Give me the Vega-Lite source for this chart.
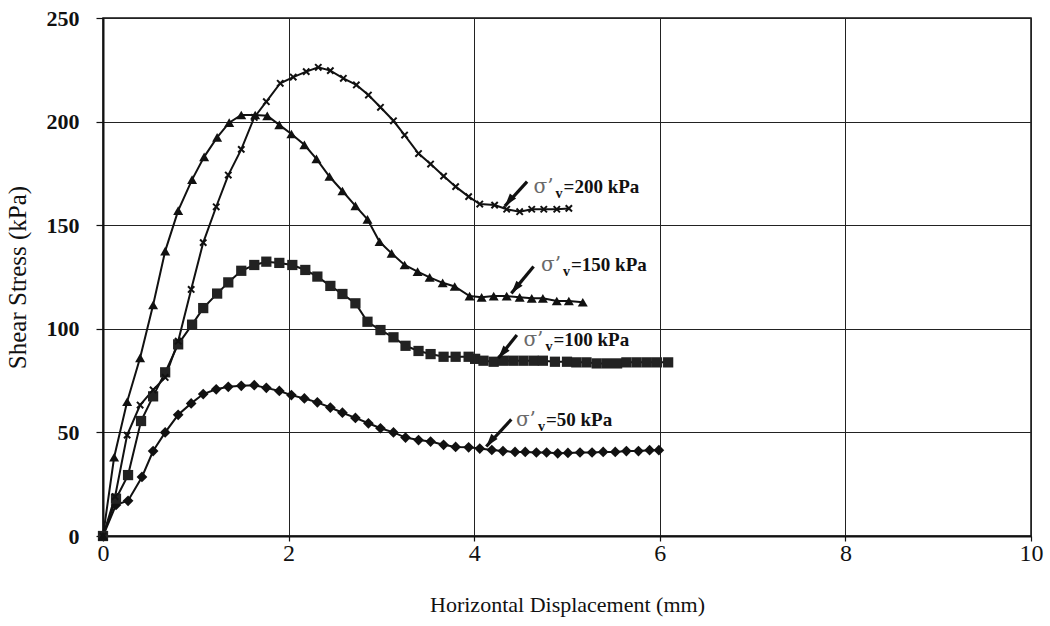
{
  "$schema": "https://vega.github.io/schema/vega-lite/v6.json",
  "autosize": "none",
  "width": 928,
  "height": 518,
  "padding": {"left": 103, "top": 18, "right": 19, "bottom": 90},
  "background": "white",
  "config": {
    "view": {"stroke": "#111", "strokeWidth": 1.5},
    "font": "Liberation Serif",
    "axis": {
      "domainColor": "#111",
      "domainWidth": 2,
      "tickColor": "#111",
      "tickWidth": 1.2,
      "gridColor": "#222",
      "gridWidth": 1,
      "gridOpacity": 1,
      "labelFont": "Liberation Serif",
      "labelFontWeight": "bold",
      "labelFontSize": 22,
      "labelColor": "#111",
      "labelFlush": false,
      "titleFont": "Liberation Serif",
      "titleFontWeight": "normal",
      "titleFontSize": 22,
      "titleColor": "#111"
    }
  },
  "datasets": {
    "curves": [
      {"stress": "50", "d": 0, "tau": 0}, {"stress": "50", "d": 0.14, "tau": 15}, {"stress": "50", "d": 0.27, "tau": 17},
      {"stress": "50", "d": 0.42, "tau": 28.5}, {"stress": "50", "d": 0.54, "tau": 41}, {"stress": "50", "d": 0.67, "tau": 50},
      {"stress": "50", "d": 0.81, "tau": 58.5}, {"stress": "50", "d": 0.95, "tau": 64}, {"stress": "50", "d": 1.08, "tau": 68.5},
      {"stress": "50", "d": 1.22, "tau": 70.8}, {"stress": "50", "d": 1.35, "tau": 72}, {"stress": "50", "d": 1.49, "tau": 72.5},
      {"stress": "50", "d": 1.63, "tau": 72.8}, {"stress": "50", "d": 1.76, "tau": 71.5}, {"stress": "50", "d": 1.9, "tau": 70},
      {"stress": "50", "d": 2.03, "tau": 68}, {"stress": "50", "d": 2.17, "tau": 66.4}, {"stress": "50", "d": 2.31, "tau": 64.5},
      {"stress": "50", "d": 2.45, "tau": 62}, {"stress": "50", "d": 2.58, "tau": 59.5}, {"stress": "50", "d": 2.72, "tau": 57},
      {"stress": "50", "d": 2.86, "tau": 54.4}, {"stress": "50", "d": 2.99, "tau": 52}, {"stress": "50", "d": 3.13, "tau": 50},
      {"stress": "50", "d": 3.26, "tau": 47.5}, {"stress": "50", "d": 3.4, "tau": 46.3}, {"stress": "50", "d": 3.53, "tau": 45.6},
      {"stress": "50", "d": 3.67, "tau": 44}, {"stress": "50", "d": 3.8, "tau": 43}, {"stress": "50", "d": 3.94, "tau": 42.8},
      {"stress": "50", "d": 4.06, "tau": 42.2}, {"stress": "50", "d": 4.19, "tau": 41.5}, {"stress": "50", "d": 4.31, "tau": 41},
      {"stress": "50", "d": 4.44, "tau": 40.6}, {"stress": "50", "d": 4.55, "tau": 40.6}, {"stress": "50", "d": 4.67, "tau": 40.3},
      {"stress": "50", "d": 4.78, "tau": 40.3}, {"stress": "50", "d": 4.9, "tau": 39.9}, {"stress": "50", "d": 5.01, "tau": 40.1},
      {"stress": "50", "d": 5.14, "tau": 40.3}, {"stress": "50", "d": 5.27, "tau": 40.3}, {"stress": "50", "d": 5.39, "tau": 40.6},
      {"stress": "50", "d": 5.52, "tau": 40.6}, {"stress": "50", "d": 5.64, "tau": 41}, {"stress": "50", "d": 5.77, "tau": 41},
      {"stress": "50", "d": 5.89, "tau": 41.4}, {"stress": "50", "d": 5.99, "tau": 41.4},

      {"stress": "100", "d": 0, "tau": 0}, {"stress": "100", "d": 0.14, "tau": 18}, {"stress": "100", "d": 0.27, "tau": 29.4},
      {"stress": "100", "d": 0.41, "tau": 55.5}, {"stress": "100", "d": 0.54, "tau": 67.4}, {"stress": "100", "d": 0.67, "tau": 79},
      {"stress": "100", "d": 0.81, "tau": 92.5}, {"stress": "100", "d": 0.96, "tau": 102}, {"stress": "100", "d": 1.08, "tau": 110},
      {"stress": "100", "d": 1.23, "tau": 117}, {"stress": "100", "d": 1.35, "tau": 122.4}, {"stress": "100", "d": 1.49, "tau": 128},
      {"stress": "100", "d": 1.63, "tau": 130.8}, {"stress": "100", "d": 1.76, "tau": 132.4}, {"stress": "100", "d": 1.9, "tau": 131.8},
      {"stress": "100", "d": 2.04, "tau": 130.8}, {"stress": "100", "d": 2.18, "tau": 128.4}, {"stress": "100", "d": 2.31, "tau": 125.2},
      {"stress": "100", "d": 2.45, "tau": 120.7}, {"stress": "100", "d": 2.58, "tau": 116.8}, {"stress": "100", "d": 2.72, "tau": 112.3},
      {"stress": "100", "d": 2.85, "tau": 103.4}, {"stress": "100", "d": 2.99, "tau": 99.4}, {"stress": "100", "d": 3.13, "tau": 95.9},
      {"stress": "100", "d": 3.26, "tau": 91.8}, {"stress": "100", "d": 3.4, "tau": 89.3}, {"stress": "100", "d": 3.53, "tau": 87.8},
      {"stress": "100", "d": 3.67, "tau": 86.5}, {"stress": "100", "d": 3.8, "tau": 86.5}, {"stress": "100", "d": 3.94, "tau": 86.5},
      {"stress": "100", "d": 4.01, "tau": 85.5}, {"stress": "100", "d": 4.1, "tau": 84.6}, {"stress": "100", "d": 4.21, "tau": 84.1},
      {"stress": "100", "d": 4.31, "tau": 84.6}, {"stress": "100", "d": 4.42, "tau": 84.6}, {"stress": "100", "d": 4.53, "tau": 84.6},
      {"stress": "100", "d": 4.64, "tau": 84.6}, {"stress": "100", "d": 4.74, "tau": 84.6}, {"stress": "100", "d": 4.87, "tau": 84.1},
      {"stress": "100", "d": 5.0, "tau": 84.1}, {"stress": "100", "d": 5.1, "tau": 83.8}, {"stress": "100", "d": 5.21, "tau": 83.8},
      {"stress": "100", "d": 5.32, "tau": 83.3}, {"stress": "100", "d": 5.43, "tau": 83.3}, {"stress": "100", "d": 5.54, "tau": 83.3},
      {"stress": "100", "d": 5.64, "tau": 83.8}, {"stress": "100", "d": 5.75, "tau": 83.8}, {"stress": "100", "d": 5.86, "tau": 83.8},
      {"stress": "100", "d": 5.97, "tau": 83.8}, {"stress": "100", "d": 6.09, "tau": 83.8},

      {"stress": "150", "d": 0, "tau": 0}, {"stress": "150", "d": 0.12, "tau": 38}, {"stress": "150", "d": 0.26, "tau": 64.8},
      {"stress": "150", "d": 0.4, "tau": 86}, {"stress": "150", "d": 0.54, "tau": 111.5}, {"stress": "150", "d": 0.67, "tau": 137.5},
      {"stress": "150", "d": 0.81, "tau": 157}, {"stress": "150", "d": 0.96, "tau": 172}, {"stress": "150", "d": 1.09, "tau": 183},
      {"stress": "150", "d": 1.23, "tau": 192.4}, {"stress": "150", "d": 1.36, "tau": 199.5}, {"stress": "150", "d": 1.49, "tau": 203.2},
      {"stress": "150", "d": 1.64, "tau": 203.2}, {"stress": "150", "d": 1.77, "tau": 202.8}, {"stress": "150", "d": 1.9, "tau": 198.4},
      {"stress": "150", "d": 2.03, "tau": 194}, {"stress": "150", "d": 2.17, "tau": 188.8}, {"stress": "150", "d": 2.3, "tau": 182},
      {"stress": "150", "d": 2.44, "tau": 173.5}, {"stress": "150", "d": 2.58, "tau": 166.5}, {"stress": "150", "d": 2.72, "tau": 159.3},
      {"stress": "150", "d": 2.85, "tau": 152.8}, {"stress": "150", "d": 2.98, "tau": 142}, {"stress": "150", "d": 3.11, "tau": 136.4},
      {"stress": "150", "d": 3.25, "tau": 130.8}, {"stress": "150", "d": 3.39, "tau": 127.6}, {"stress": "150", "d": 3.52, "tau": 124.8},
      {"stress": "150", "d": 3.66, "tau": 122.2}, {"stress": "150", "d": 3.79, "tau": 120.4}, {"stress": "150", "d": 3.95, "tau": 115.8},
      {"stress": "150", "d": 4.08, "tau": 115.2}, {"stress": "150", "d": 4.21, "tau": 115.8}, {"stress": "150", "d": 4.35, "tau": 115.8},
      {"stress": "150", "d": 4.49, "tau": 115.2}, {"stress": "150", "d": 4.62, "tau": 114.7}, {"stress": "150", "d": 4.74, "tau": 114.7},
      {"stress": "150", "d": 4.89, "tau": 113.4}, {"stress": "150", "d": 5.02, "tau": 113.4}, {"stress": "150", "d": 5.17, "tau": 112.8},

      {"stress": "200", "d": 0, "tau": 0}, {"stress": "200", "d": 0.13, "tau": 19}, {"stress": "200", "d": 0.26, "tau": 48.7},
      {"stress": "200", "d": 0.4, "tau": 63.2}, {"stress": "200", "d": 0.54, "tau": 70.5}, {"stress": "200", "d": 0.67, "tau": 76.5},
      {"stress": "200", "d": 0.81, "tau": 94}, {"stress": "200", "d": 0.95, "tau": 119}, {"stress": "200", "d": 1.08, "tau": 141.6},
      {"stress": "200", "d": 1.22, "tau": 158.9}, {"stress": "200", "d": 1.35, "tau": 174.2}, {"stress": "200", "d": 1.49, "tau": 186.6},
      {"stress": "200", "d": 1.63, "tau": 202}, {"stress": "200", "d": 1.76, "tau": 209.6}, {"stress": "200", "d": 1.91, "tau": 218.5},
      {"stress": "200", "d": 2.05, "tau": 221.5}, {"stress": "200", "d": 2.19, "tau": 224.1}, {"stress": "200", "d": 2.32, "tau": 226.2},
      {"stress": "200", "d": 2.45, "tau": 224.6}, {"stress": "200", "d": 2.59, "tau": 220.9}, {"stress": "200", "d": 2.73, "tau": 217.7},
      {"stress": "200", "d": 2.86, "tau": 212.8}, {"stress": "200", "d": 2.99, "tau": 206.9}, {"stress": "200", "d": 3.13, "tau": 200.4},
      {"stress": "200", "d": 3.25, "tau": 193.5}, {"stress": "200", "d": 3.4, "tau": 184.6}, {"stress": "200", "d": 3.53, "tau": 179.5},
      {"stress": "200", "d": 3.67, "tau": 173.7}, {"stress": "200", "d": 3.8, "tau": 168.6}, {"stress": "200", "d": 3.94, "tau": 163.8},
      {"stress": "200", "d": 4.06, "tau": 160.2}, {"stress": "200", "d": 4.22, "tau": 159.7}, {"stress": "200", "d": 4.35, "tau": 157.7},
      {"stress": "200", "d": 4.49, "tau": 156.5}, {"stress": "200", "d": 4.62, "tau": 157.7}, {"stress": "200", "d": 4.75, "tau": 157.7},
      {"stress": "200", "d": 4.89, "tau": 157.7}, {"stress": "200", "d": 5.02, "tau": 158.1}
    ],
    "labels": [
      {"stress": "200", "lx": 4.64, "ly": 168.6, "rest": "=200 kPa"},
      {"stress": "150", "lx": 4.72, "ly": 130.8, "rest": "=150 kPa"},
      {"stress": "100", "lx": 4.53, "ly": 94.6, "rest": "=100 kPa"},
      {"stress": "50", "lx": 4.45, "ly": 56, "rest": "=50 kPa"}
    ],
    "arrows": [
      {"stress": "200", "x0": 4.57, "y0": 171, "x1": 4.33, "y1": 159.2},
      {"stress": "150", "x0": 4.64, "y0": 130.1, "x1": 4.4, "y1": 117.1},
      {"stress": "100", "x0": 4.46, "y0": 97, "x1": 4.26, "y1": 85.8},
      {"stress": "50", "x0": 4.4, "y0": 56.3, "x1": 4.13, "y1": 43.2}
    ]
  },
  "layer": [
    {
      "data": {"name": "curves"},
      "mark": {"type": "line", "color": "#111", "strokeWidth": 2},
      "encoding": {
        "x": {
          "field": "d", "type": "quantitative",
          "scale": {"domain": [0, 10], "nice": false},
          "axis": {"values": [0, 2, 4, 6, 8, 10], "format": "d", "title": "Horizontal Displacement (mm)", "labelFontWeight": "normal", "labelFontSize": 24, "tickSize": 5, "labelPadding": 0, "titlePadding": 29}
        },
        "y": {
          "field": "tau", "type": "quantitative",
          "scale": {"domain": [0, 250], "nice": false},
          "axis": {"values": [0, 50, 100, 150, 200, 250], "format": "d", "title": "Shear Stress (kPa)", "titleFontSize": 25, "tickSize": 7, "labelPadding": 17, "titlePadding": 16}
        },
        "detail": {"field": "stress"}
      }
    },
    {
      "data": {"name": "curves"},
      "transform": [{"filter": "datum.stress === '50'"}],
      "mark": {"type": "point", "shape": "diamond", "filled": true, "color": "#111", "size": 115, "opacity": 1},
      "encoding": {"x": {"field": "d", "type": "quantitative"}, "y": {"field": "tau", "type": "quantitative"}}
    },
    {
      "data": {"name": "curves"},
      "transform": [{"filter": "datum.stress === '100'"}],
      "mark": {"type": "point", "shape": "square", "filled": true, "color": "#222", "size": 105, "opacity": 1},
      "encoding": {"x": {"field": "d", "type": "quantitative"}, "y": {"field": "tau", "type": "quantitative"}}
    },
    {
      "data": {"name": "curves"},
      "transform": [{"filter": "datum.stress === '150'"}],
      "mark": {"type": "point", "shape": "triangle-up", "filled": true, "color": "#111", "size": 100, "opacity": 1},
      "encoding": {"x": {"field": "d", "type": "quantitative"}, "y": {"field": "tau", "type": "quantitative"}}
    },
    {
      "data": {"name": "curves"},
      "transform": [{"filter": "datum.stress === '200'"}],
      "mark": {"type": "point", "shape": "M-1,-1L1,1M1,-1L-1,1", "filled": false, "color": "#111", "strokeWidth": 2, "size": 40, "opacity": 1},
      "encoding": {"x": {"field": "d", "type": "quantitative"}, "y": {"field": "tau", "type": "quantitative"}}
    },
    {
      "data": {"name": "arrows"},
      "mark": {"type": "rule", "color": "#111", "strokeWidth": 3.2},
      "encoding": {
        "x": {"field": "x0", "type": "quantitative"},
        "y": {"field": "y0", "type": "quantitative"},
        "x2": {"field": "x1"},
        "y2": {"field": "y1"}
      }
    },
    {
      "data": {"name": "arrows"},
      "mark": {"type": "point", "shape": "M0,0L0.8,2.6L-0.8,2.6Z", "filled": true, "color": "#111", "size": 100, "angle": 219, "opacity": 1},
      "encoding": {
        "x": {"field": "x1", "type": "quantitative"},
        "y": {"field": "y1", "type": "quantitative"}
      }
    },
    {
      "data": {"name": "labels"},
      "mark": {"type": "text", "text": "σ’", "align": "left", "baseline": "middle", "font": "DejaVu Serif", "fontSize": 20, "color": "#6a6a6a"},
      "encoding": {
        "x": {"field": "lx", "type": "quantitative"},
        "y": {"field": "ly", "type": "quantitative"}
      }
    },
    {
      "data": {"name": "labels"},
      "mark": {"type": "text", "text": "v", "align": "left", "baseline": "middle", "dx": 22, "dy": 7, "font": "Liberation Serif", "fontWeight": "bold", "fontSize": 14, "color": "#111"},
      "encoding": {
        "x": {"field": "lx", "type": "quantitative"},
        "y": {"field": "ly", "type": "quantitative"}
      }
    },
    {
      "data": {"name": "labels"},
      "mark": {"type": "text", "align": "left", "baseline": "middle", "dx": 30, "font": "Liberation Serif", "fontWeight": "bold", "fontSize": 19, "color": "#111"},
      "encoding": {
        "x": {"field": "lx", "type": "quantitative"},
        "y": {"field": "ly", "type": "quantitative"},
        "text": {"field": "rest"}
      }
    }
  ]
}
